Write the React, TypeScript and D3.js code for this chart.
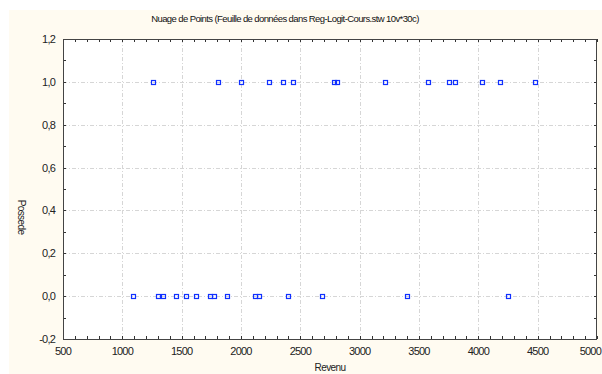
import { useEffect, useRef } from "react";
import * as d3 from "d3";

const revenuYes = [1260, 1810, 2000, 2240, 2350, 2440, 2780, 2810, 3210, 3580, 3750, 3800, 4030, 4180, 4480];
const revenuNo = [1090, 1300, 1340, 1450, 1540, 1620, 1740, 1770, 1880, 2120, 2150, 2400, 2680, 3400, 4250];
const xTicks = [500, 1000, 1500, 2000, 2500, 3000, 3500, 4000, 4500, 5000];
const yTicks = [-0.2, 0, 0.2, 0.4, 0.6, 0.8, 1.0, 1.2];
const title = "Nuage de Points (Feuille de données dans Reg-Logit-Cours.stw 10v*30c)";

const App = () => {
    const svgRef = useRef<SVGSVGElement>(null);

    useEffect(() => {
        const svg = d3.select(svgRef.current);
        svg.selectAll("*").remove();

        const width = 602;
        const height = 374;
        const left = 63, right = 597, top = 39, bottom = 339;
        const font = "'Liberation Sans', Arial, sans-serif";

        svg.attr("width", width).attr("height", height);

        svg.append("rect").attr("width", width).attr("height", height).attr("fill", "#ffffff");
        svg.append("rect").attr("x", 9).attr("y", 10).attr("width", width - 9).attr("height", height - 10).attr("fill", "#fffbf1");

        const x = d3.scaleLinear().domain([500, 5000]).range([left, right]);
        const y = d3.scaleLinear().domain([-0.2, 1.2]).range([bottom, top]);

        svg.append("rect")
            .attr("x", left).attr("y", top)
            .attr("width", right - left).attr("height", bottom - top)
            .attr("fill", "#ffffff");

        // grid
        svg.selectAll(".gx")
            .data(xTicks.slice(1, -1))
            .enter()
            .append("line")
            .attr("x1", (d) => Math.round(x(d)) + 0.5).attr("x2", (d) => Math.round(x(d)) + 0.5)
            .attr("y1", top).attr("y2", bottom)
            .attr("stroke", "#d6d6d6").attr("stroke-dasharray", "4,2,1,2");
        svg.selectAll(".gy")
            .data(yTicks.slice(1, -1))
            .enter()
            .append("line")
            .attr("x1", left).attr("x2", right)
            .attr("y1", (d) => Math.round(y(d)) + 0.5).attr("y2", (d) => Math.round(y(d)) + 0.5)
            .attr("stroke", "#d6d6d6").attr("stroke-dasharray", "4,2,1,2");

        // minor / major ticks inward
        const xMinor = d3.range(500, 5001, 100);
        const yMinor = d3.range(-2, 13).map((i) => i / 10);
        const tk = svg.append("g").attr("stroke", "#333").attr("stroke-width", 1);
        xMinor.forEach((v) => {
            const px = Math.round(x(v)) + 0.5;
            tk.append("line").attr("x1", px).attr("x2", px).attr("y1", bottom).attr("y2", bottom - 3);
            tk.append("line").attr("x1", px).attr("x2", px).attr("y1", top).attr("y2", top + 3);
        });
        yMinor.forEach((v) => {
            const py = Math.round(y(v)) + 0.5;
            tk.append("line").attr("x1", left).attr("x2", left + 3).attr("y1", py).attr("y2", py);
            tk.append("line").attr("x1", right).attr("x2", right - 3).attr("y1", py).attr("y2", py);
        });

        // frame
        svg.append("rect")
            .attr("x", left + 0.5).attr("y", top + 0.5)
            .attr("width", right - left - 1).attr("height", bottom - top)
            .attr("fill", "none").attr("stroke", "#444");
        svg.append("line").attr("x1", left).attr("x2", right).attr("y1", bottom + 0.5).attr("y2", bottom + 0.5).attr("stroke", "#444");

        // points
        const pts = [
            ...revenuYes.map((v) => ({ v, p: 1 })),
            ...revenuNo.map((v) => ({ v, p: 0 })),
        ];
        svg.selectAll(".pt")
            .data(pts)
            .enter()
            .append("rect")
            .attr("x", (d) => Math.round(x(d.v)) - 2 + 0.5)
            .attr("y", (d) => Math.round(y(d.p)) - 2 + 0.5)
            .attr("width", 4).attr("height", 4)
            .attr("fill", "none")
            .attr("stroke", "#1030ff")
            .attr("stroke-width", 1.2);

        // tick labels
        svg.selectAll(".xl")
            .data(xTicks)
            .enter()
            .append("text")
            .attr("x", (d, i) => (i === xTicks.length - 1 ? 601 : x(d)))
            .attr("y", 355)
            .attr("text-anchor", (d, i) => (i === xTicks.length - 1 ? "end" : "middle"))
            .attr("font-family", font).attr("font-size", 11).attr("letter-spacing", -0.8)
            .attr("fill", "#222")
            .text((d) => String(d));
        svg.selectAll(".yl")
            .data(yTicks)
            .enter()
            .append("text")
            .attr("x", 55)
            .attr("y", (d) => y(d) + 4)
            .attr("text-anchor", "end")
            .attr("font-family", font).attr("font-size", 11).attr("letter-spacing", -0.8)
            .attr("fill", "#222")
            .text((d) => d3.format(".1f")(d).replace(".", ",").replace("−", "-"));

        svg.append("text")
            .attr("x", 285).attr("y", 22)
            .attr("text-anchor", "middle")
            .attr("font-family", font).attr("font-size", 9.5).attr("letter-spacing", -0.6)
            .attr("fill", "#111")
            .text(title);
        svg.append("text")
            .attr("x", 330).attr("y", 371)
            .attr("text-anchor", "middle")
            .attr("font-family", font).attr("font-size", 10).attr("letter-spacing", -0.6)
            .attr("fill", "#222")
            .text("Revenu");
        svg.append("text")
            .attr("transform", "translate(18,217) rotate(90)")
            .attr("text-anchor", "middle")
            .attr("font-family", font).attr("font-size", 10).attr("letter-spacing", -0.6)
            .attr("fill", "#222")
            .text("Possede");
    }, []);

    return <svg ref={svgRef} style={{ position: "absolute", left: 0, top: 0 }} />;
};

export default App;
